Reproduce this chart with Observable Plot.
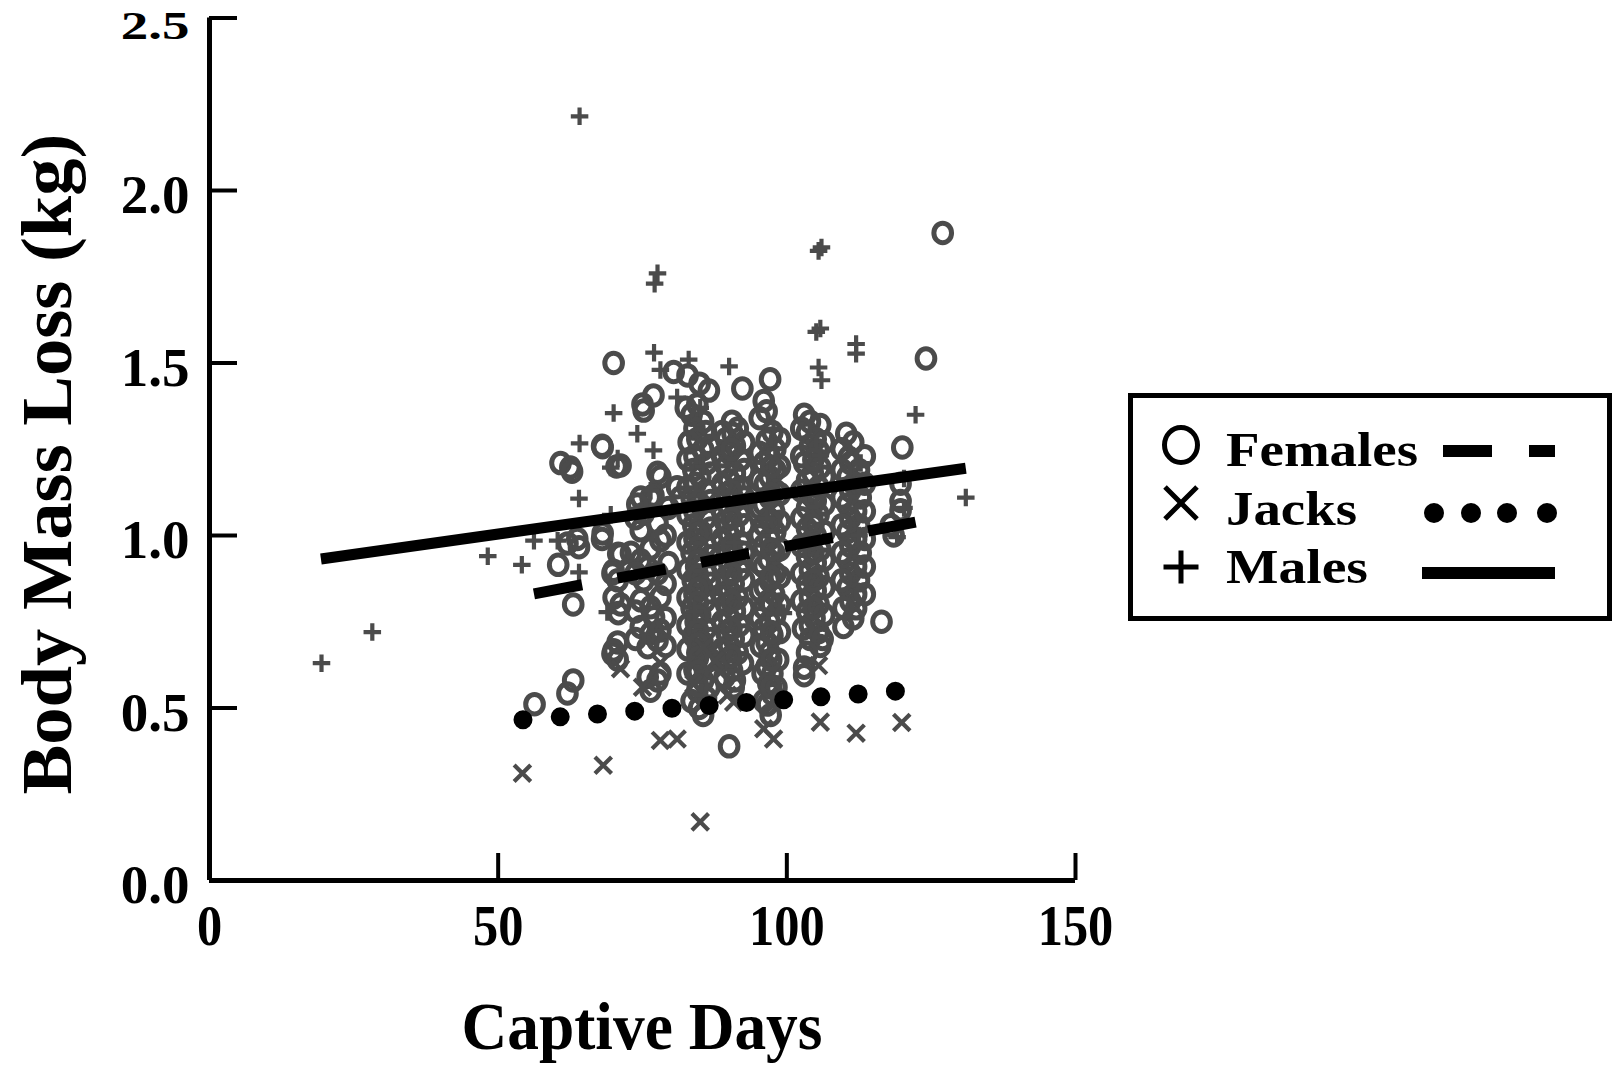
<!DOCTYPE html>
<html><head><meta charset="utf-8">
<script src="https://cdn.jsdelivr.net/npm/d3@7"></script>
<script src="https://cdn.jsdelivr.net/npm/@observablehq/plot@0.6"></script>
<style>
html,body{margin:0;padding:0;background:#fff;}
#wrap{position:relative;width:1618px;height:1065px;overflow:hidden;background:#fff;}
#legend{position:absolute;left:1128px;top:393px;}
</style></head><body><div id="wrap"></div>
<script>
// ---- data ----
const femaleDays = [
  56.3, 60.4, 60.8, 62.5, 62.8, 62.0, 63.7, 64.0, 63.0, 63.0, 62.0,
  70.0, 68.1, 68.0, 71.2, 70.5, 68.1, 68.0, 70.8, 71.2, 70.0, 69.8, 70.7, 71.2, 70.0, 70.8, 70.7, 69.8, 70.0, 70.7,
  75.0, 75.2, 76.9, 80.4, 77.6, 78.1, 76.9, 74.7, 76.4, 81.0, 81.6, 75.2, 77.6, 74.7, 78.1, 76.4, 74.7, 75.9, 77.6, 75.2, 74.7, 76.4, 78.1, 77.0, 74.7, 76.4, 77.6, 75.9, 78.1, 78.1, 75.9, 77.6, 76.4, 74.1, 73.0,
  73.8, 79.0, 73.8, 79.0, 73.8, 79.0, 73.8, 79.0, 79.5, 79.5,
  82.8, 84.9, 84.5, 83.5, 85.5, 84.0, 86.0, 84.5, 83.0, 85.5, 84.0, 86.2, 83.8, 85.0, 84.2, 86.0, 83.5, 85.0, 84.0, 86.0, 83.8, 85.2, 84.0, 86.0, 83.5, 85.0, 84.3, 86.1, 83.7, 85.3, 84.0, 85.8, 83.5, 85.0, 84.2, 86.0, 83.8, 85.4, 84.5, 85.8, 84.0, 85.5, 84.5, 86.0, 84.8, 85.5,
  86.5, 82.5, 86.8, 82.8, 86.8, 82.8, 86.8, 82.8, 86.8, 82.8, 86.8, 82.8, 86.8, 82.8, 86.8, 82.8, 86.8, 82.8, 86.8, 82.8, 86.6, 83.5,
  84.6, 84.6, 84.6, 84.6, 84.6, 84.6, 84.6, 84.6, 84.6, 84.6, 84.6, 84.6,
  92.3, 90.5, 91.5, 90.6, 89.5, 91.0, 90.0, 92.0, 89.5, 91.0, 90.0, 92.0, 89.5, 91.0, 90.0, 91.8, 89.3, 90.8, 90.0, 92.0, 89.5, 91.0, 90.0, 91.8, 89.5, 90.8, 90.0, 91.5, 89.5, 91.0, 90.0, 91.8, 89.5, 90.8, 90.0, 91.5, 89.8, 90.5, 91.0, 90.8, 90.0,
  88.8, 92.6, 88.8, 92.6, 88.8, 92.6, 88.8, 92.6, 88.8, 92.6, 88.8, 92.6, 88.8, 92.6, 88.8, 92.6, 88.8, 92.4, 89.2,
  90.4, 90.4, 90.4, 90.4, 90.4, 90.4, 90.4, 90.4,
  97.1, 96.0, 96.5, 97.5, 96.5, 98.0, 97.0, 96.0, 98.0, 97.0, 96.2, 98.0, 97.0, 96.0, 97.8, 96.8, 96.0, 98.0, 97.0, 96.0, 97.8, 96.8, 96.0, 98.0, 97.0, 96.2, 97.8, 96.8, 96.0, 98.0, 97.0, 96.0, 97.5, 96.5, 97.0, 96.5, 97.5, 96.8, 97.5, 96.6, 97.2,
  95.3, 98.8, 95.3, 98.8, 95.3, 98.8, 95.3, 98.8, 95.3, 98.8, 95.3, 98.8, 95.3, 98.8, 95.3, 98.8, 95.5, 98.5, 95.8, 98.2, 96.0,
  97.3, 97.3, 97.3, 97.3, 97.3, 97.3, 97.3, 97.3, 97.3,
  103.0, 104.0, 105.8, 103.5, 105.0, 104.0, 105.5, 103.0, 105.8, 104.5, 103.5, 105.5, 104.0, 105.0, 103.5, 105.5, 104.5, 103.5, 105.0, 104.0, 105.8, 103.5, 105.0, 104.0, 105.5, 103.5, 105.0, 104.0, 105.5, 103.5, 104.8, 104.0, 105.5, 104.0, 105.8, 103.0, 103.0,
  102.5, 106.5, 102.5, 106.5, 102.5, 106.5, 102.5, 106.5, 102.5, 106.5, 102.5, 106.5, 102.5, 106.5, 102.8, 106.2, 103.5,
  104.6, 104.6, 104.6, 104.6, 104.6, 104.6,
  110.3, 111.5, 110.7, 111.0, 112.5, 110.5, 112.0, 111.0, 112.8, 110.5, 112.0, 111.0, 112.5, 110.5, 112.0, 111.0, 112.8, 110.5, 112.0, 111.0, 112.5, 110.5, 112.0, 111.0, 112.0, 109.8, 111.5,
  109.5, 113.5, 109.5, 113.5, 109.5, 113.5, 109.5, 113.5, 109.5, 113.5, 109.5, 113.5, 109.8,
  120.0, 119.7, 119.7, 119.7, 118.5, 116.4, 124.1, 127.0, 118.0
];
const femaleLoss = [
  0.511, 0.915, 1.21, 1.197, 1.185, 0.977, 0.99, 0.966, 0.80, 0.58, 0.542,
  1.50, 1.256, 1.26, 1.203, 1.20, 1.006, 0.99, 0.947, 0.945, 0.898, 0.89, 0.87, 0.80, 0.82, 0.775, 0.69, 0.657, 0.667, 0.64,
  1.38, 1.362, 1.406, 1.474, 1.182, 1.17, 1.116, 1.11, 1.11, 1.14, 1.11, 1.063, 1.035, 1.015, 0.986, 0.962, 0.928, 0.907, 0.89, 0.87, 0.812, 0.792, 0.821, 0.763, 0.735, 0.716, 0.696, 0.676, 0.725, 0.60, 0.59, 0.58, 0.55, 1.09, 0.95,
  1.05, 1.00, 0.89, 0.86, 0.78, 0.76, 0.70, 0.68, 0.92, 1.08,
  1.464, 1.44, 1.38, 1.35, 1.33, 1.31, 1.30, 1.28, 1.27, 1.25, 1.23, 1.21, 1.19, 1.17, 1.15, 1.13, 1.11, 1.09, 1.07, 1.05, 1.03, 1.01, 0.99, 0.97, 0.95, 0.93, 0.91, 0.89, 0.87, 0.85, 0.83, 0.81, 0.79, 0.77, 0.75, 0.73, 0.71, 0.69, 0.66, 0.63, 0.61, 0.58, 0.55, 0.53, 0.50, 0.48,
  1.42, 1.37, 1.26, 1.22, 1.18, 1.14, 1.10, 1.06, 1.02, 0.98, 0.94, 0.90, 0.86, 0.82, 0.78, 0.74, 0.70, 0.67, 0.64, 0.60, 0.56, 0.52,
  1.005, 0.965, 0.925, 0.885, 0.845, 0.805, 0.765, 0.725, 0.685, 0.645, 0.605, 0.565,
  1.426, 1.33, 1.31, 1.295, 1.28, 1.26, 1.24, 1.22, 1.20, 1.18, 1.16, 1.14, 1.12, 1.10, 1.08, 1.06, 1.04, 1.02, 1.00, 0.98, 0.96, 0.94, 0.92, 0.90, 0.88, 0.86, 0.84, 0.82, 0.80, 0.78, 0.76, 0.74, 0.72, 0.70, 0.68, 0.66, 0.64, 0.61, 0.58, 0.56, 0.389,
  1.30, 1.27, 1.23, 1.19, 1.15, 1.11, 1.07, 1.03, 0.99, 0.95, 0.91, 0.87, 0.83, 0.79, 0.75, 0.71, 0.67, 0.63, 0.59,
  1.25, 1.13, 1.05, 0.97, 0.89, 0.81, 0.73, 0.65,
  1.453, 1.39, 1.36, 1.30, 1.275, 1.25, 1.23, 1.21, 1.19, 1.17, 1.15, 1.13, 1.11, 1.09, 1.07, 1.05, 1.03, 1.01, 0.99, 0.97, 0.95, 0.93, 0.91, 0.89, 0.87, 0.85, 0.83, 0.81, 0.79, 0.77, 0.75, 0.73, 0.71, 0.69, 0.66, 0.62, 0.60, 0.57, 0.54, 0.51, 0.48,
  1.34, 1.28, 1.24, 1.20, 1.16, 1.12, 1.08, 1.04, 1.00, 0.96, 0.92, 0.88, 0.84, 0.80, 0.76, 0.72, 0.68, 0.64, 0.60, 0.56, 0.52,
  1.20, 1.12, 1.04, 0.96, 0.88, 0.80, 0.72, 0.64, 0.56,
  1.35, 1.33, 1.32, 1.30, 1.28, 1.26, 1.246, 1.21, 1.197, 1.18, 1.16, 1.14, 1.12, 1.10, 1.08, 1.06, 1.04, 1.02, 1.00, 0.98, 0.96, 0.94, 0.92, 0.90, 0.88, 0.86, 0.84, 0.82, 0.80, 0.78, 0.76, 0.74, 0.72, 0.70, 0.68, 0.617, 0.595,
  1.31, 1.27, 1.23, 1.17, 1.13, 1.09, 1.05, 1.01, 0.97, 0.93, 0.89, 0.85, 0.81, 0.77, 0.73, 0.70, 0.66,
  1.22, 1.11, 1.03, 0.95, 0.87, 0.79,
  1.295, 1.27, 1.226, 1.21, 1.19, 1.17, 1.15, 1.13, 1.11, 1.09, 1.07, 1.05, 1.03, 1.01, 0.99, 0.97, 0.95, 0.93, 0.91, 0.89, 0.87, 0.85, 0.83, 0.81, 0.789, 0.735, 0.76,
  1.25, 1.23, 1.19, 1.15, 1.11, 1.07, 1.03, 0.99, 0.95, 0.91, 0.87, 0.83, 0.79,
  1.255, 1.15, 1.10, 1.073, 1.00, 0.75, 1.513, 1.877, 1.03
];
const maleDays = [19.4, 28.2, 48.2, 54.1, 56.2, 60.3, 64.1, 64.1, 64.0, 64.0, 68.9, 69.5, 70.0, 70.7, 69.5, 74.1, 76.9, 77.6, 77.1, 77.0, 78.1, 81.0, 83.0, 85.0, 76.4, 90.0, 92.5, 97.7, 105.5, 106.0, 105.8, 105.1, 105.5, 106.0, 112.0, 112.0, 112.8, 119.1, 120.3, 120.3, 122.3, 131.0, 85.5, 91.0, 98.0, 104.0, 99.4, 105.8, 88.0, 84.0, 112.5, 96.5];
const maleLoss = [0.63, 0.72, 0.94, 0.915, 0.985, 0.985, 2.215, 1.267, 1.107, 0.893, 0.778, 1.06, 1.355, 1.223, 1.197, 1.295, 1.247, 1.76, 1.73, 1.53, 1.48, 1.40, 1.51, 1.37, 1.13, 1.49, 1.165, 1.31, 1.825, 1.835, 1.60, 1.59, 1.487, 1.45, 1.555, 1.527, 1.21, 0.995, 1.165, 1.08, 1.35, 1.11, 1.20, 0.98, 1.25, 1.12, 0.775, 1.232, 0.85, 0.78, 1.00, 1.05];
const jackDays = [54.2, 68.2, 78.1, 81.0, 85.0, 71.2, 75.0, 78.1, 85.6, 88.5, 89.7, 90.8, 96.0, 97.7, 105.8, 105.5, 112.0, 119.9, 83.9, 87.6];
const jackLoss = [0.311, 0.334, 0.406, 0.41, 0.17, 0.614, 0.56, 0.63, 0.677, 0.603, 0.537, 0.517, 0.44, 0.41, 0.459, 0.623, 0.427, 0.458, 0.57, 0.638];
// regression line end points
const maleFitDays = [19.3, 131.0];
const maleFitLoss = [0.932, 1.195];
const femaleFitDays = [56.2, 122.3];
const femaleFitLoss = [0.831, 1.039];
const jackFitDays = [54.3, 118.9];
const jackFitLoss = [0.466, 0.549];
// ticks and titles
const xTicks = [0, 50, 100, 150];
const yTicks = [0, 0.5, 1.0, 1.5, 2.0, 2.5];
const xTitle = "Captive Days";
const yTitle = "Body Mass Loss (kg)";

// ---- layout ----
const W = 1618, H = 1065, mL = 209, mR = 543, mT = 17.5, mB = 185;
const frameW = W - mL - mR, frameH = H - mT - mB;
const gray = "#4b4b4b";
const font = "'Liberation Serif', 'Times New Roman', serif";

const ellipse = {
  draw(ctx, size) {
    const r = Math.sqrt(size / Math.PI), rx = r * 0.95, ry = r * 1.05, k = 0.5523;
    ctx.moveTo(rx, 0);
    ctx.bezierCurveTo(rx, k * ry, k * rx, ry, 0, ry);
    ctx.bezierCurveTo(-k * rx, ry, -rx, k * ry, -rx, 0);
    ctx.bezierCurveTo(-rx, -k * ry, -k * rx, -ry, 0, -ry);
    ctx.bezierCurveTo(k * rx, -ry, rx, -k * ry, rx, 0);
    ctx.closePath();
  }
};

const chart = Plot.plot({
  width: W, height: H,
  marginLeft: mL, marginRight: mR, marginTop: mT, marginBottom: mB,
  x: {domain: [0, 150], axis: null},
  y: {domain: [0, 2.5], axis: null},
  style: {fontFamily: font, fontWeight: "bold", background: "white", color: "black", overflow: "visible"},
  marks: [
    Plot.dot(femaleDays, {x: femaleDays, y: femaleLoss, symbol: ellipse, r: 9.3, fill: "none", stroke: gray, strokeWidth: 5}),
    Plot.dot(maleDays, {x: maleDays, y: maleLoss, symbol: "plus", r: 5.7, stroke: gray, strokeWidth: 4.2}),
    Plot.dot(jackDays, {x: jackDays, y: jackLoss, symbol: "times", r: 7.6, stroke: gray, strokeWidth: 4.2}),
    Plot.line(maleFitDays, {x: maleFitDays, y: maleFitLoss, stroke: "black", strokeWidth: 11, strokeLinecap: "butt"}),
    Plot.line(femaleFitDays, {x: femaleFitDays, y: femaleFitLoss, stroke: "black", strokeWidth: 11, strokeLinecap: "butt", strokeDasharray: "49 36"}),
    Plot.line(jackFitDays, {x: jackFitDays, y: jackFitLoss, stroke: "black", strokeWidth: 19, strokeLinecap: "round", strokeDasharray: "0 37.35"}),
    Plot.ruleX([0], {stroke: "black", strokeWidth: 5}),
    Plot.ruleY([0], {stroke: "black", strokeWidth: 5}),
    Plot.tickY(yTicks, {y: d => d, stroke: "black", strokeWidth: 4, insetRight: frameW - 28}),
    Plot.tickX(xTicks.slice(1), {x: d => d, stroke: "black", strokeWidth: 4, insetTop: frameH - 27}),
    Plot.axisY(yTicks, {tickSize: 0, tickPadding: 20, dy: 5, fontSize: 55, fontWeight: "bold", fontFamily: font, tickFormat: d3.format(".1f"), label: null}),
    Plot.axisX(xTicks, {tickSize: 0, tickPadding: 25, fontSize: 56, fontWeight: "bold", fontFamily: font, tickFormat: d => String(d), label: null}),
    Plot.text([xTitle], {text: d => d, frameAnchor: "bottom", lineAnchor: "middle", fontSize: 68, fontWeight: "bold", fontFamily: font}),
    Plot.text([yTitle], {text: d => d, frameAnchor: "left", rotate: -90, lineAnchor: "middle", fontSize: 72, fontWeight: "bold", fontFamily: font})
  ]
});

const wrap = document.getElementById("wrap");
wrap.appendChild(chart);

// typographic adjustment: wrap a text in a group, scale it about its centre, optionally move the centre
// (target centres cx, cy are given in the coordinates of the whole svg)
function reshape(el, {sx = 1, sy = 1, w = null, h = null, cx = null, cy = null} = {}) {
  const g = document.createElementNS("http://www.w3.org/2000/svg", "g");
  el.parentNode.insertBefore(g, el);
  g.appendChild(el);
  const b = g.getBBox();
  const ox = b.x + b.width / 2, oy = b.y + b.height / 2;
  if (w != null) sx = w / b.width;
  if (h != null) sy = h / b.height;
  const m = g.parentNode.getCTM();
  let tx = ox, ty = oy;
  if (cx != null || cy != null) {
    const p = chart.createSVGPoint();
    p.x = ox; p.y = oy;
    const cur = p.matrixTransform(m);
    const target = chart.createSVGPoint();
    target.x = cx == null ? cur.x : cx;
    target.y = cy == null ? cur.y : cy;
    const loc = target.matrixTransform(m.inverse());
    tx = loc.x; ty = loc.y;
  }
  g.setAttribute("transform", `translate(${tx},${ty}) scale(${sx},${sy}) translate(${-ox},${-oy})`);
}
const texts = Array.from(chart.querySelectorAll("text"));
for (const el of texts) {
  const t = el.textContent;
  if (t === xTitle) reshape(el, {w: 361, cx: 642, cy: 1026});
  else if (t === yTitle) reshape(el, {h: 661, cx: 46.5, cy: 464});
  else if (t === "2.5") reshape(el, {sy: 0.72, cy: 25.5});
  else if (/^\d+$/.test(t)) reshape(el, {sx: 0.9});
}

// legend (to the right of the plot)
const legend = document.createElement("div");
legend.id = "legend";
legend.innerHTML = `
<svg width="484" height="228" style="font-family:'Liberation Serif','Times New Roman',serif;font-weight:bold;overflow:visible">
  <rect x="2.5" y="2.5" width="479" height="223" fill="white" stroke="black" stroke-width="5"/>
  <ellipse cx="53" cy="52" rx="16.5" ry="17.5" fill="none" stroke="black" stroke-width="5"/>
  <path d="M37,94 L69,126 M69,94 L37,126" stroke="black" stroke-width="5" fill="none"/>
  <path d="M35.5,174 L70.5,174 M53,157.5 L53,190.5" stroke="black" stroke-width="5" fill="none"/>
  <text x="98" y="73" font-size="48" textLength="192" lengthAdjust="spacingAndGlyphs">Females</text>
  <text x="98" y="132" font-size="48" textLength="131" lengthAdjust="spacingAndGlyphs">Jacks</text>
  <text x="98" y="190" font-size="48" textLength="142" lengthAdjust="spacingAndGlyphs">Males</text>
  <path d="M315,58 L364,58 M401,58 L427,58" stroke="black" stroke-width="12" fill="none"/>
  <g fill="black"><circle cx="306" cy="120" r="10"/><circle cx="343" cy="120" r="10"/><circle cx="379" cy="120" r="10"/><circle cx="419" cy="120" r="10"/></g>
  <path d="M294,180 L427,180" stroke="black" stroke-width="12" fill="none"/>
</svg>`;
wrap.appendChild(legend);
</script>
</body></html>
